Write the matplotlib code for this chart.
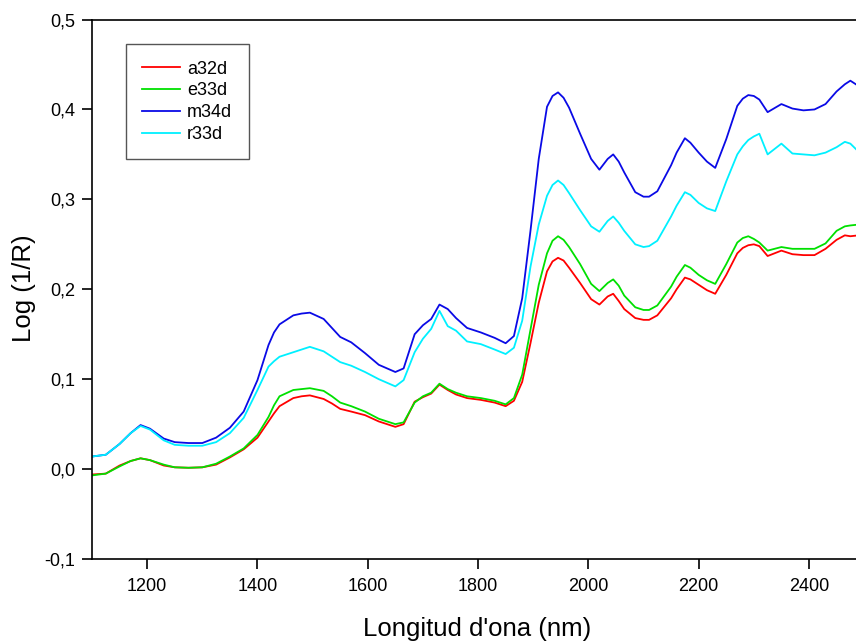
import matplotlib
matplotlib.use('Agg')
import matplotlib.pyplot as plt
import matplotlib as mpl
import matplotlib.ticker as mtick

mpl.rcParams['font.family'] = ['Liberation Sans', 'DejaVu Sans']
mpl.rcParams['axes.unicode_minus'] = False

# longitud d'ona (nm)
wl = [1100, 1125, 1150, 1170, 1188, 1205, 1230, 1250, 1275, 1300,
      1325, 1350, 1375, 1400, 1420, 1430, 1440, 1465, 1480, 1495,
      1520, 1535, 1550, 1570, 1595, 1620, 1650, 1665, 1685, 1700,
      1715, 1730, 1745, 1760, 1780, 1805, 1830, 1850, 1865, 1880,
      1895, 1910, 1925, 1935, 1945, 1955, 1965, 1985, 2005, 2020,
      2035, 2045, 2055, 2065, 2085, 2100, 2110, 2125, 2150, 2160,
      2175, 2185, 2200, 2215, 2230, 2250, 2270, 2280, 2290, 2300,
      2310, 2325, 2350, 2370, 2390, 2410, 2430, 2450, 2465, 2475,
      2490]

a32d = [-0.006, -0.005, 0.004, 0.009, 0.012, 0.010, 0.004, 0.002, 0.0015, 0.002,
        0.005, 0.013, 0.022, 0.035, 0.053, 0.062, 0.070, 0.079, 0.081, 0.082,
        0.078, 0.073, 0.067, 0.064, 0.060, 0.053, 0.047, 0.050, 0.075, 0.080,
        0.084, 0.094, 0.088, 0.083, 0.079, 0.077, 0.074, 0.070, 0.076, 0.097,
        0.140, 0.185, 0.220, 0.231, 0.235, 0.232, 0.224, 0.207, 0.189, 0.183,
        0.192, 0.195, 0.187, 0.178, 0.168, 0.166, 0.166, 0.171, 0.190, 0.200,
        0.213, 0.211, 0.205, 0.199, 0.195, 0.216, 0.240, 0.246, 0.249, 0.250,
        0.248, 0.237, 0.243, 0.239, 0.238, 0.238, 0.245, 0.255, 0.260, 0.259,
        0.260]

e33d = [-0.007, -0.005, 0.003, 0.009, 0.012, 0.010, 0.005, 0.002, 0.0015, 0.002,
        0.006, 0.014, 0.023, 0.038, 0.058, 0.071, 0.081, 0.088, 0.089, 0.090,
        0.087, 0.081, 0.074, 0.070, 0.064, 0.056, 0.050, 0.052, 0.074, 0.081,
        0.085, 0.095, 0.089, 0.085, 0.081, 0.079, 0.076, 0.072, 0.079, 0.105,
        0.155, 0.205, 0.240, 0.254, 0.259, 0.255, 0.247, 0.228, 0.206, 0.198,
        0.207, 0.211, 0.204, 0.193, 0.180, 0.177, 0.177, 0.182, 0.203, 0.214,
        0.227, 0.224, 0.216, 0.210, 0.206, 0.228, 0.252, 0.257, 0.259, 0.256,
        0.252, 0.243, 0.247, 0.245, 0.245, 0.245, 0.251, 0.265, 0.270, 0.271,
        0.272]

m34d = [0.014, 0.016, 0.028, 0.040, 0.049, 0.045, 0.034, 0.030, 0.029, 0.029,
        0.035, 0.046, 0.064, 0.099, 0.138, 0.152, 0.161, 0.171, 0.173, 0.174,
        0.167, 0.157, 0.147, 0.141, 0.129, 0.116, 0.108, 0.112, 0.150, 0.160,
        0.167, 0.183, 0.178, 0.168, 0.157, 0.152, 0.146, 0.140, 0.148, 0.190,
        0.265, 0.345, 0.403, 0.415, 0.419, 0.413, 0.402, 0.373, 0.345, 0.333,
        0.345, 0.350, 0.342, 0.330, 0.308, 0.303, 0.303, 0.309, 0.338, 0.352,
        0.368, 0.363, 0.352, 0.342, 0.335, 0.367, 0.404, 0.412, 0.416, 0.415,
        0.411, 0.397, 0.406, 0.401, 0.399, 0.400, 0.406, 0.420, 0.428, 0.432,
        0.426]

r33d = [0.014, 0.016, 0.028, 0.040, 0.048, 0.044, 0.032, 0.027, 0.026, 0.026,
        0.030, 0.040, 0.057, 0.088, 0.114, 0.120, 0.125, 0.130, 0.133, 0.136,
        0.131, 0.125, 0.119, 0.115, 0.108, 0.100, 0.092, 0.099, 0.130, 0.145,
        0.156, 0.176, 0.159, 0.154, 0.142, 0.139, 0.133, 0.128, 0.135, 0.165,
        0.225, 0.272, 0.304, 0.316, 0.321, 0.316, 0.307, 0.288, 0.270, 0.264,
        0.276, 0.281, 0.274, 0.265, 0.250, 0.247, 0.248, 0.254, 0.281, 0.293,
        0.308, 0.305, 0.296, 0.290, 0.287, 0.320, 0.350, 0.359, 0.366, 0.370,
        0.373, 0.350, 0.362, 0.351, 0.350, 0.349, 0.352, 0.358, 0.364, 0.362,
        0.353]

fig = plt.figure(figsize=(8.56, 6.43), dpi=100)
ax = fig.add_axes([0.1075, 0.1306, 0.902, 0.839])

ax.plot(wl, a32d, color='#ff0000', lw=1.3, label='a32d')
ax.plot(wl, e33d, color='#00e000', lw=1.3, label='e33d')
ax.plot(wl, m34d, color='#0a0ae6', lw=1.3, label='m34d')
ax.plot(wl, r33d, color='#00f0ff', lw=1.3, label='r33d')

ax.set_xlim(1100, 2500)
ax.set_ylim(-0.1, 0.5)
ax.set_xticks([1200, 1400, 1600, 1800, 2000, 2200, 2400])
ax.set_yticks([-0.1, 0.0, 0.1, 0.2, 0.3, 0.4, 0.5])
ax.yaxis.set_major_formatter(mtick.FuncFormatter(lambda v, p: ('%.1f' % v).replace('.', ',')))

ax.spines['right'].set_visible(False)
for s in ['left', 'bottom', 'top']:
    ax.spines[s].set_linewidth(1.2)
ax.tick_params(direction='out', length=7, width=1.2, labelsize=13)
ax.tick_params(axis='x', pad=7)
ax.tick_params(axis='y', pad=5)

ax.set_xlabel("Longitud d'ona (nm)", fontsize=18.5)
ax.set_ylabel("Log (1/R)", fontsize=18.5)
ax.xaxis.set_label_coords(0.499, -0.108)
ax.yaxis.set_label_coords(-0.072, 0.502)

leg = ax.legend(loc='upper left', bbox_to_anchor=(0.0437, 0.954), borderaxespad=0,
                fontsize=13, frameon=True, fancybox=False, framealpha=1,
                handlelength=2.1, handletextpad=0.4, labelspacing=0.27, borderpad=0.9)
leg.get_frame().set_edgecolor('#555555')
leg.get_frame().set_linewidth(1.0)

fig.savefig('out.png', dpi=100)
